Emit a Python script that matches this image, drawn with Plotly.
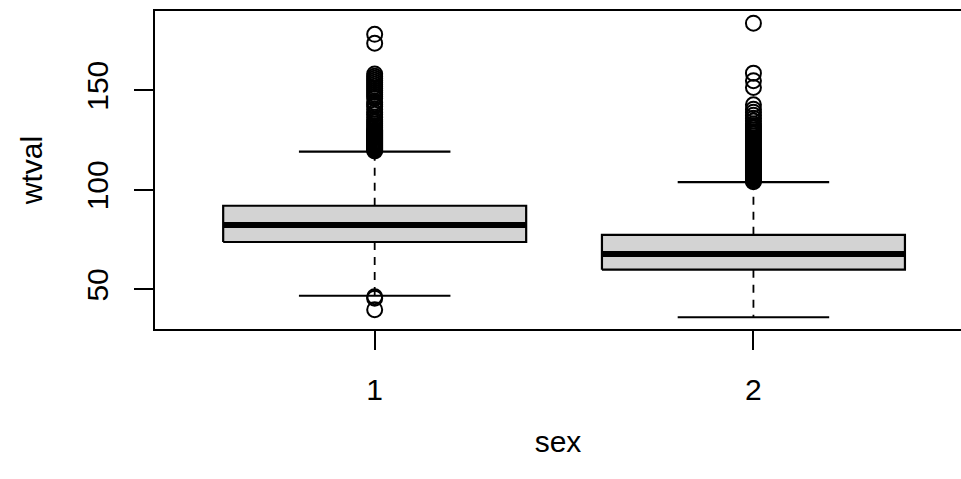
import plotly.graph_objects as go

# ---- data ----
groups = ["1", "2"]
positions = [1, 2]
lower_whisker = [46.8, 36.0]
q1 = [73.8, 59.9]
median = [82.3, 67.8]
q3 = [92.0, 77.4]
upper_whisker = [119.2, 103.9]

outliers_1 = [39.8, 45.6, 46.3,
              119.5, 120, 120.5, 121, 121.5, 122, 122.5, 123, 123.5, 124, 124.5,
              125, 125.5, 126, 126.5, 127, 127.5, 128, 128.5, 129, 129.5, 130,
              131, 132, 133, 134, 135, 136.5, 138, 139, 140.5, 142, 143, 144,
              146, 147, 148, 149, 150, 151, 152, 153, 154, 155, 156, 157, 158.2,
              173.6, 178.1]
outliers_2 = [104, 104.5, 105, 105.5, 106, 106.5, 107, 107.5, 108, 108.5, 109,
              109.5, 110, 110.5, 111, 111.5, 112, 112.5, 113, 113.5, 114, 114.5,
              115, 115.5, 116, 116.5, 117, 117.5, 118, 118.5, 119, 119.5, 120,
              121, 122, 123, 124, 125, 126, 127, 128, 129, 130, 131, 132, 133,
              134.5, 136, 137.5, 139, 140.5, 142.7, 151.4, 154.8, 158.6, 183.7]
outliers = [outliers_1, outliers_2]

y_ticks = [50, 100, 150]
x_title = "sex"
y_title = "wtval"

# ---- style ----
BOX_HALF = 0.4
STAPLE_HALF = 0.2
FONT = "Liberation Sans, Arial, sans-serif"
FS = 30

fig = go.Figure()

for p, lw, a, m, b, uw, outs in zip(positions, lower_whisker, q1, median, q3,
                                      upper_whisker, outliers):
    fig.add_trace(go.Scatter(
        x=[p, p, None, p, p], y=[b, uw, None, a, lw], mode="lines",
        line=dict(color="black", width=1.8, dash="8px,7px"),
        hoverinfo="skip", showlegend=False))
    fig.add_trace(go.Scatter(
        x=[p - STAPLE_HALF, p + STAPLE_HALF, None, p - STAPLE_HALF, p + STAPLE_HALF],
        y=[uw, uw, None, lw, lw], mode="lines",
        line=dict(color="black", width=2.2),
        hoverinfo="skip", showlegend=False))
    fig.add_trace(go.Scatter(
        x=[p - BOX_HALF, p + BOX_HALF, p + BOX_HALF, p - BOX_HALF, p - BOX_HALF],
        y=[a, a, b, b, a], mode="lines", fill="toself", fillcolor="#D3D3D3",
        line=dict(color="black", width=2.2),
        hoverinfo="skip", showlegend=False))
    fig.add_trace(go.Scatter(
        x=[p - BOX_HALF, p + BOX_HALF], y=[m, m], mode="lines",
        line=dict(color="black", width=6),
        hoverinfo="skip", showlegend=False))
    fig.add_trace(go.Scatter(
        x=[p] * len(outs), y=outs, mode="markers",
        marker=dict(symbol="circle-open", size=15, color="black",
                    line=dict(width=2, color="black")),
        hoverinfo="skip", showlegend=False))

fig.update_layout(
    width=961, height=479,
    margin=dict(l=155, r=0, t=11, b=150),
    paper_bgcolor="white", plot_bgcolor="white",
    font=dict(family=FONT, size=FS, color="black"),
    showlegend=False,
    xaxis=dict(
        range=[0.42, 2.548], tickmode="array", tickvals=positions, ticktext=groups,
        ticks="outside", ticklen=19, tickwidth=1.5, tickcolor="black",
        showline=True, linecolor="black", linewidth=2.2, mirror=True,
        showgrid=False, zeroline=False, ticklabelstandoff=14,
        title=dict(text=x_title, standoff=26, font=dict(size=FS)),
    ),
    yaxis=dict(
        range=[30.1, 189.8], tickmode="array", tickvals=y_ticks,
        ticks="outside", ticklen=19, tickwidth=1.5, tickcolor="black",
        showline=True, linecolor="black", linewidth=2.2, mirror=False,
        showgrid=False, zeroline=False, tickangle=-90, ticklabelstandoff=14,
        title=dict(text=y_title, standoff=29, font=dict(size=FS)),
    ),
)

fig.write_html("out.html",
               config={"displayModeBar": False},
               post_script="document.body.style.margin='0';"
                           "document.body.style.overflow='hidden';")
